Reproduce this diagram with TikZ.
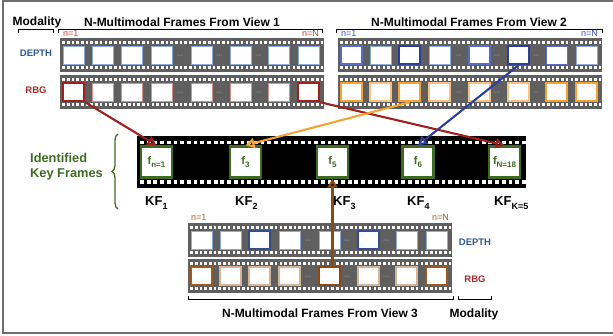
\documentclass[tikz,border=0pt]{standalone}
\usepackage{fontspec}
\setmainfont{Liberation Sans}
\usetikzlibrary{arrows.meta,decorations.pathreplacing}
\definecolor{stripgray}{HTML}{5F5F5F}
\definecolor{dotgray}{HTML}{B5B5B5}
\definecolor{bordergray}{HTML}{6E6E6E}
\definecolor{depthblue}{HTML}{2E5A96}
\definecolor{rbgred}{HTML}{A8282A}
\definecolor{kfgreen}{HTML}{3E6B22}
\definecolor{lblue}{HTML}{8EAADB}
\definecolor{mblue}{HTML}{5A6BC8}
\definecolor{dblue}{HTML}{2C3E9E}
\definecolor{nblue}{HTML}{2F4F8F}
\definecolor{salmon}{HTML}{D9918C}
\definecolor{dred}{HTML}{A01E1C}
\definecolor{orng}{HTML}{F6A336}
\definecolor{lorng}{HTML}{F8C380}
\definecolor{brwn}{HTML}{8B4A14}
\definecolor{mbrwn}{HTML}{9C5A1E}
\definecolor{tan}{HTML}{D6B596}
\definecolor{nred}{HTML}{D03C3C}
\definecolor{nbl}{HTML}{4050C0}
\definecolor{nbr}{HTML}{A0602A}
\newcommand\fsub[1]{\raisebox{-2.5pt}{\fontsize{8}{9}\selectfont #1}}
\newcommand\kfsub[1]{\raisebox{-4pt}{\fontsize{9}{10}\selectfont #1}}
\newcommand\filmrow[4]{%
  \fill[stripgray] (#1,#2) rectangle ++(264,34);
  \foreach \k in {0,...,55}{
    \fill[white] ({#1+2.2+\k*4.7},{#2+2.8}) rectangle ++(2.6,2.8);
    \fill[white] ({#1+2.2+\k*4.7},{#2+28.4}) rectangle ++(2.6,2.8);
  }
  \foreach \dx in {120,159,198}{
    \foreach \ddx in {-2,0,2} \fill[dotgray] ({#1+\dx+\ddx},{#2+17}) circle (0.5);
  }
  \foreach \c/\w [count=\i] in {#4}{
    \pgfmathsetmacro\xo{{3,32,61,91,131,170,208,238}[\i-1]}
    \node[frm, draw=\c, line width=\w] (#3\i) at ({#1+\xo+10.5},{#2+17}) {};
  }
}
\begin{document}
\begin{tikzpicture}[x=1pt,y=-1pt,
  frm/.style={fill=white, minimum width=21pt, minimum height=18pt, inner sep=0pt},
  kf/.style={fill=white, draw=kfgreen, line width=2.4pt, minimum width=31pt, minimum height=31pt, inner sep=0pt, text=kfgreen, font=\bfseries\fontsize{11}{13}\selectfont},
  ttl/.style={font=\bfseries\fontsize{12}{14}\selectfont, inner sep=0pt, anchor=base},
  modl/.style={font=\bfseries\fontsize{9.5}{11}\selectfont, inner sep=0pt, anchor=base},
  nlab/.style={font=\fontsize{9}{10}\selectfont, inner sep=0pt},
  kfl/.style={font=\bfseries\fontsize{13}{15}\selectfont, inner sep=0pt, anchor=base west},
  brk/.style={line width=0.8pt, black},
  arr/.style={line width=2.1pt, -{Triangle[open, length=9pt, width=10pt]}}
]
\useasboundingbox (0,0) rectangle (613,335);
\draw[bordergray, line width=1.5pt] (613,0.75) -- (2.75,0.75) -- (2.75,333) -- (613,333);

% titles top
\node[ttl] (modtop) at (37,25) {Modality};
\node[ttl] (t1) at (182,26.5) {N-Multimodal Frames From View 1};
\node[ttl] (t2) at (469,26) {N-Multimodal Frames From View 2};
\draw[brk] (18,33) -- (18,29.5) -- (53,29.5) -- (53,33);
\draw[brk] (58,33) -- (58,29.5) -- (322,29.5) -- (322,33);
\draw[brk] (336,33) -- (336,29.5) -- (602,29.5) -- (602,33);
\node[nlab, text=nred, anchor=base west] (n11) at (63,36.5) {n=1};
\node[nlab, text=nred, anchor=base east] (n1N) at (319,36.5) {n=N};
\node[nlab, text=nbl, anchor=base west] (n21) at (341,36.5) {n=1};
\node[nlab, text=nbl, anchor=base east] (n2N) at (598,36.5) {n=N};
\node[modl, text=depthblue] (dep1) at (36,56) {DEPTH};
\node[modl, text=rbgred] (rbg1) at (36,93) {RBG};

% view 1
\filmrow{60}{38}{v1d}{lblue/1pt,lblue/1pt,lblue/1pt,lblue/1pt,lblue/1pt,lblue/1pt,lblue/1pt,lblue/1pt}
\filmrow{60}{75}{v1b}{dred/2.6pt,salmon/1pt,salmon/1pt,salmon/1pt,salmon/1pt,salmon/1pt,salmon/1pt,dred/2.6pt}
% view 2
\filmrow{338}{38}{v2d}{mblue/1.2pt,lblue/1pt,dblue/1.4pt,lblue/1pt,mblue/1.2pt,dblue/2.6pt,mblue/1pt,lblue/1pt}
\filmrow{338}{75}{v2b}{orng/1.2pt,lorng/1.1pt,orng/2.6pt,lorng/1.1pt,lorng/1.1pt,lorng/1.1pt,orng/1.1pt,orng/1.2pt}
% view 3
\filmrow{188}{223}{v3d}{lblue/1pt,lblue/1pt,nblue/1.3pt,lblue/1pt,lblue/1pt,nblue/1.3pt,lblue/1pt,lblue/1pt}
\filmrow{188}{259}{v3b}{mbrwn/1.3pt,tan/1.1pt,tan/1.1pt,tan/1.1pt,brwn/2.6pt,tan/1.1pt,tan/1.1pt,mbrwn/1.3pt}

% key frame strip
\fill[black] (137,136) rectangle (526,188);
\foreach \k in {0,...,57}{
  \fill[white] ({140+\k*6.7},140.5) rectangle ++(3.8,3.8);
  \fill[white] ({140+\k*6.7},180.3) rectangle ++(3.8,3.8);
}
\node[kf] (kf1) at (156.5,162) {f\fsub{n=1}};
\node[kf] (kf2) at (245.5,162) {f\fsub{3}};
\node[kf] (kf3) at (332.5,162) {f\fsub{5}};
\node[kf] (kf4) at (418,162) {f\fsub{6}};
\node[kf] (kf5) at (504.5,162) {f\fsub{N=18}};

\node[kfl] (kfl1) at (145,205) {KF\kfsub{1}};
\node[kfl] (kfl2) at (235,205) {KF\kfsub{2}};
\node[kfl] (kfl3) at (333,205) {KF\kfsub{3}};
\node[kfl] (kfl4) at (407,205) {KF\kfsub{4}};
\node[kfl] (kfl5) at (494,205) {KF\kfsub{K=5}};

\node[font=\bfseries\fontsize{12.8}{15}\selectfont, text=kfgreen, align=left, inner sep=0pt, anchor=west] (ikf) at (30,166.5) {Identified\\Key Frames};
\draw[kfgreen, line width=1.3pt, decorate, decoration={brace, amplitude=6pt}] (118,209) -- (118,134);

% bottom labels
\node[nlab, text=nbr, anchor=base west] (n31) at (191,220) {n=1};
\node[nlab, text=nbr, anchor=base east] (n3N) at (449,220) {n=N};
\node[modl, text=depthblue] (dep3) at (475,245) {DEPTH};
\node[modl, text=rbgred] (rbg3) at (475,282) {RBG};
\draw[brk] (188,296) -- (188,299.5) -- (453,299.5) -- (453,296);
\draw[brk] (458,296) -- (458,299.5) -- (491,299.5) -- (491,296);
\node[ttl] (t3) at (320,317.5) {N-Multimodal Frames From View 3};
\node[ttl] (modbot) at (474,317) {Modality};

% arrows
\draw[arr, dred] (v1b1.south east) -- (kf1.north);
\draw[arr, dred] (v1b8.south east) -- (kf5.north);
\draw[arr, orng] (v2b3.south) -- (kf2.north);
\draw[arr, dblue] (v2d6.south) -- (kf4.north);
\draw[arr, brwn] (kf3.south |- v3b5.north) -- (kf3.south);
\end{tikzpicture}
\end{document}
